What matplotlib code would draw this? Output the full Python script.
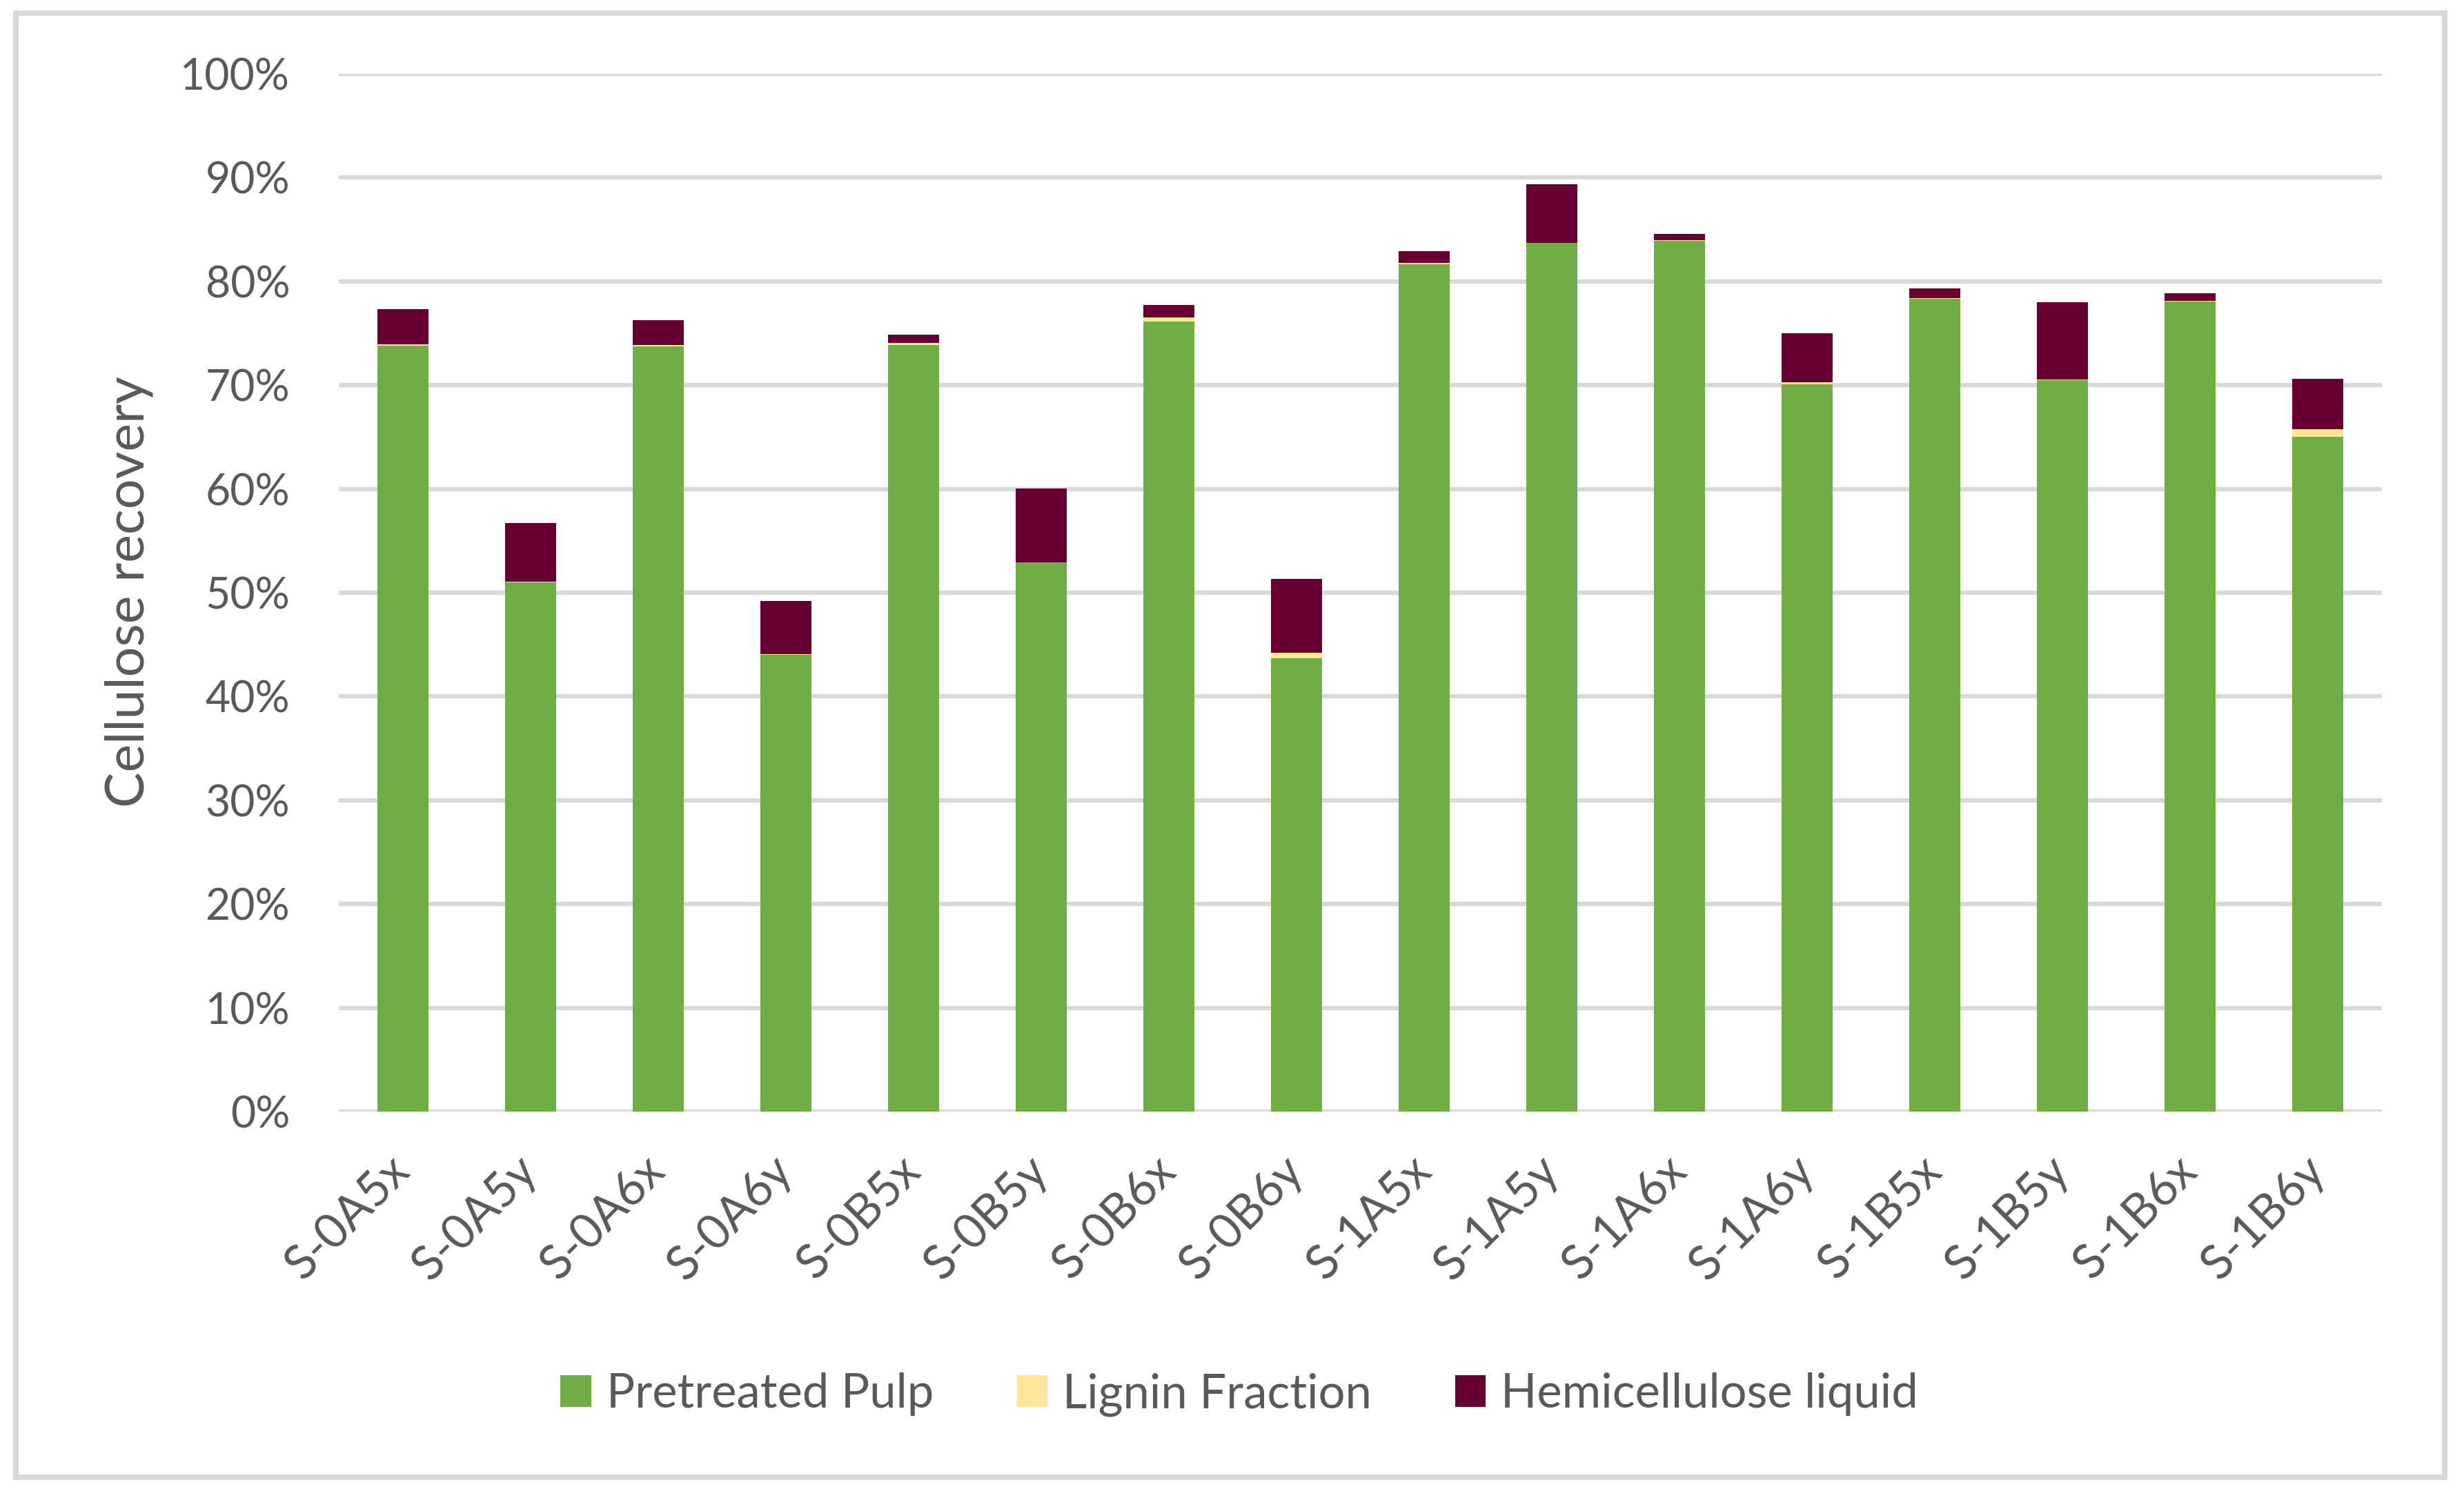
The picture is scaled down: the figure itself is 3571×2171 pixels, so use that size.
import numpy as np
import matplotlib.pyplot as plt
from matplotlib.patches import Rectangle
from matplotlib.ticker import PercentFormatter

plt.rcParams['font.family'] = ['Lato', 'DejaVu Sans']

samples = ['S-0A5x', 'S-0A5y', 'S-0A6x', 'S-0A6y', 'S-0B5x', 'S-0B5y', 'S-0B6x', 'S-0B6y',
           'S-1A5x', 'S-1A5y', 'S-1A6x', 'S-1A6y', 'S-1B5x', 'S-1B5y', 'S-1B6x', 'S-1B6y']
# fractions of cellulose recovered in each stream
pulp = [0.738, 0.510, 0.7375, 0.440, 0.739, 0.529, 0.7615, 0.437,
        0.8163, 0.8368, 0.839, 0.701, 0.783, 0.705, 0.7805, 0.650]
lignin = [0.0015, 0.0005, 0.001, 0.0005, 0.0017, 0.0005, 0.0035, 0.005,
          0.0013, 0.0005, 0.001, 0.0015, 0.001, 0.0007, 0.0005, 0.0073]
hemi = [0.034, 0.0566, 0.0239, 0.0515, 0.008, 0.0706, 0.012, 0.0712,
        0.0113, 0.0566, 0.0055, 0.0473, 0.0095, 0.074, 0.0073, 0.0486]

green = '#70AD47'
yellow = '#FFE699'
maroon = '#660033'
grey_txt = '#595959'
grid_c = '#D9D9D9'

fig = plt.figure(figsize=(3571 / 300, 2171 / 300), dpi=300)
ax = fig.add_axes([491 / 3571, 1 - 1611 / 2171, (3452 - 491) / 3571, (1611 - 107) / 2171])

x = np.arange(len(samples))
w = 0.4
pulp = np.array(pulp)
lignin = np.array(lignin)
hemi = np.array(hemi)
ax.bar(x, pulp, w, color=green, label='Pretreated Pulp', zorder=3)
ax.bar(x, lignin, w, bottom=pulp, color=yellow, label='Lignin Fraction', zorder=3)
ax.bar(x, hemi, w, bottom=pulp + lignin, color=maroon, label='Hemicellulose liquid', zorder=3)

ax.set_xlim(-0.5, len(samples) - 0.5)
ax.set_ylim(0, 1)
ax.set_yticks(np.arange(0, 1.01, 0.1))
ax.yaxis.set_major_formatter(PercentFormatter(1.0, decimals=0))
ax.grid(axis='y', color=grid_c, linewidth=1.55, zorder=0)
ax.set_axisbelow(True)
for s in ax.spines.values():
    s.set_visible(False)
ax.tick_params(axis='y', length=0, labelsize=15, labelcolor=grey_txt, pad=17)
ax.tick_params(axis='x', length=0, labelsize=16.5, labelcolor=grey_txt, pad=18)
ax.set_xticks(x)
ax.set_xticklabels(samples, rotation=45, ha='right', va='center', rotation_mode='anchor')

fig.text(187 / 3571, 1 - 858 / 2171, 'Cellulose recovery', rotation=90, ha='center', va='center',
         fontsize=18.5, color=grey_txt)

fig.legend(loc='center', bbox_to_anchor=(0.503, 0.069), ncol=3, frameon=False, fontsize=16.5,
           handlelength=0.65, handleheight=0.65, handletextpad=0.32, columnspacing=1.75,
           labelcolor=grey_txt)

fig.patches.append(Rectangle((23 / 3571, 1 - 2141 / 2171), (3543 - 23) / 3571, (2141 - 19) / 2171,
                             transform=fig.transFigure, fill=False, edgecolor=grid_c, linewidth=1.9))

fig.savefig('out.png', dpi=300, facecolor='white')
